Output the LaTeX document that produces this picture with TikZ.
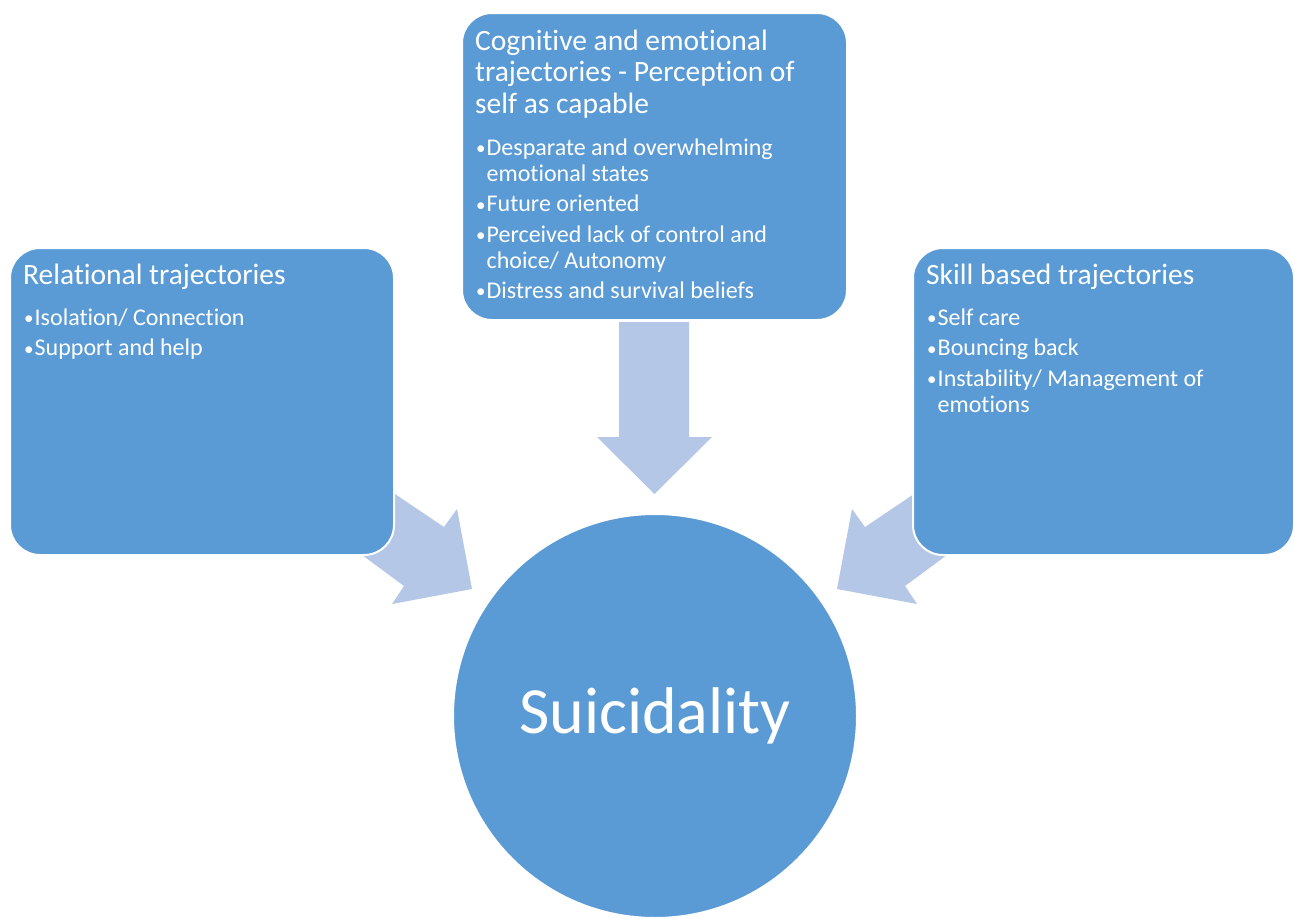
\documentclass[tikz,border=0pt]{standalone}
\usepackage{fontspec}
\setmainfont{Carlito}[Ligatures={NoCommon}]
\definecolor{boxblue}{HTML}{5B9BD5}
\definecolor{arrowblue}{HTML}{B4C7E7}
\newcommand{\ttlfont}{\fontsize{29.5}{31.5}\selectfont}
\newcommand{\bulfont}{\fontsize{24}{26}\selectfont}
\newcommand{\bdot}{\makebox[11.5pt][l]{\hspace{1pt}\raisebox{0.5pt}{\fontsize{19}{19}\selectfont •}}}
\newcommand{\bpt}[1]{\par\hangindent=11.5pt\hangafter=1\noindent\bdot#1}
\tikzset{
  panel/.style={draw=white, line width=2pt, fill=boxblue, rounded corners=30pt},
  blockarrow/.style={fill=arrowblue},
  paneltext/.style={anchor=base west, inner sep=0pt, text=white},
}
\begin{document}
\begin{tikzpicture}[x=1pt,y=-1pt]
\useasboundingbox (0,0) rectangle (1294,918);
% block arrows
\fill[blockarrow] (619,322) -- (689,322) -- (689,437) -- (712,437) -- (654.5,494) -- (597,437) -- (619,437) -- cycle;
\fill[blockarrow] (389,490) -- (444,527) -- (457,509) -- (472,589) -- (392,604) -- (404,586) -- (358,552) -- cycle;
\fill[blockarrow] (920,490) -- (865,527) -- (852,509) -- (837,589) -- (917,604) -- (905,586) -- (951,552) -- cycle;
% panels
\draw[panel] (462,13) rectangle (847,320);
\draw[panel] (10,248) rectangle (394,555);
\draw[panel] (913,248) rectangle (1294,555);
% texts
\node[paneltext] (toptext) at (475,50) {\parbox[t]{370pt}{\raggedright
\ttlfont Cognitive and emotional\newline trajectories - Perception of\newline self as capable\par
\vspace{16pt}\bulfont
\bpt{Desparate and overwhelming\newline emotional states}\par\vspace{4.5pt}
\bpt{Future oriented}\par\vspace{4.5pt}
\bpt{Perceived lack of control and\newline choice/ Autonomy}\par\vspace{4.5pt}
\bpt{Distress and survival beliefs}\par}};
\node[paneltext] (lefttext) at (23,284) {\parbox[t]{365pt}{\raggedright
\ttlfont Relational trajectories\par
\vspace{15pt}\bulfont
\bpt{Isolation/ Connection}\par\vspace{4.5pt}
\bpt{Support and help}\par}};
\node[paneltext] (righttext) at (926,284) {\parbox[t]{360pt}{\raggedright
\ttlfont Skill based trajectories\par
\vspace{15pt}\bulfont
\bpt{Self care}\par\vspace{4.5pt}
\bpt{Bouncing back}\par\vspace{4.5pt}
\bpt{Instability/ Management of\newline emotions}\par}};
% circle
\node[circle, draw=white, line width=2pt, fill=boxblue, minimum size=404pt, inner sep=0pt,
  text=white, font=\fontsize{66}{70}\selectfont] (suic) at (655,716) {Suicidality};
\end{tikzpicture}
\end{document}
